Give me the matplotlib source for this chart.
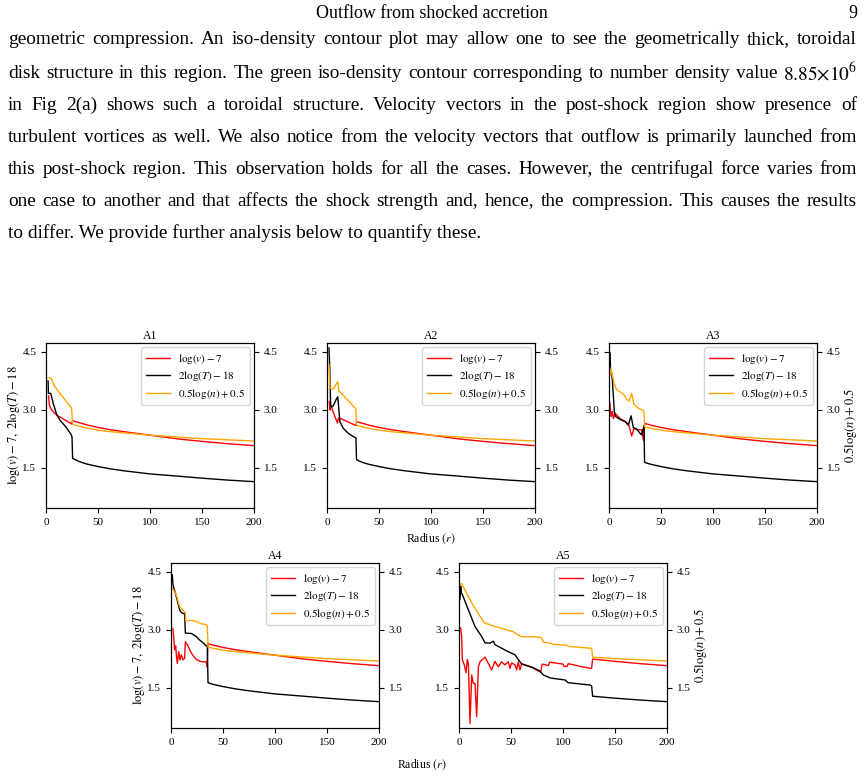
import matplotlib
matplotlib.use("Agg")
import matplotlib.pyplot as plt

plt.rcParams["font.family"] = ["Liberation Serif", "DejaVu Serif"]
plt.rcParams["mathtext.fontset"] = "stix"

# ---------------------------------------------------------------------------
# Page text
# ---------------------------------------------------------------------------
HEADER = "Outflow from shocked accretion"
PAGE_NO = "9"
PARA_LINES = [
    "geometric compression. An iso-density contour plot may allow one to see the geometrically thick, toroidal",
    r"disk structure in this region. The green iso-density contour corresponding to number density value $8.85{\times}10^6$",
    "in Fig  2(a) shows such a toroidal structure. Velocity vectors in the post-shock region show presence of",
    "turbulent vortices as well. We also notice from the velocity vectors that outflow is primarily launched from",
    "this post-shock region. This observation holds for all the cases. However, the centrifugal force varies from",
    "one case to another and that affects the shock strength and, hence, the compression. This causes the results",
    "to differ. We provide further analysis below to quantify these.",
]

# ---------------------------------------------------------------------------
# Outer (post-shock) profile, shared by all cases
# ---------------------------------------------------------------------------
r_out   = [25.6, 28, 31, 35, 40, 50, 62, 75, 100, 128, 150, 175, 200]
T_out   = [1.74, 1.71, 1.67, 1.63, 1.59, 1.53, 1.47, 1.42, 1.34, 1.28, 1.23, 1.18, 1.14]
v_out   = [2.72, 2.69, 2.67, 2.64, 2.60, 2.54, 2.48, 2.43, 2.34, 2.24, 2.18, 2.12, 2.07]
n_out   = [2.62, 2.60, 2.58, 2.55, 2.52, 2.47, 2.43, 2.40, 2.34, 2.29, 2.25, 2.22, 2.19]

# ---------------------------------------------------------------------------
# Inner profiles per case (r, value)
# ---------------------------------------------------------------------------
A1_v_r = [2.5, 3.2, 5.4, 10.2, 19.8, 24.6, 25.6]
A1_v   = [3.35, 3.12, 2.99, 2.86, 2.71, 2.63, 2.72]
A1_T_r = [2.0, 2.3, 4.5, 7.0, 10.2, 13.4, 19.8, 24.0, 25.0, 25.6]
A1_T   = [3.74, 3.42, 3.42, 3.16, 2.88, 2.73, 2.53, 2.36, 2.30, 1.74]
A1_n_r = [1.9, 4.5, 8.6, 16.6, 24.0, 24.6, 25.6]
A1_n   = [3.82, 3.82, 3.59, 3.31, 3.06, 3.03, 2.62]

A2_v_r = [2.2, 2.9, 3.5, 7.0, 10.2, 10.9, 12.0, 15.6, 26.8, 28.0, 28.4]
A2_v   = [3.21, 2.99, 3.12, 2.86, 2.65, 2.78, 2.78, 2.74, 2.60, 2.59, 2.69]
A2_T_r = [1.9, 2.6, 3.5, 4.2, 6.0, 9.3, 10.3, 11.6, 12.4, 15.6, 20.4, 26.1, 27.8, 28.4]
A2_T   = [4.59, 4.11, 3.12, 3.06, 3.10, 3.29, 3.33, 2.95, 2.69, 2.52, 2.39, 2.29, 2.27, 1.71]
A2_n_r = [1.9, 2.9, 6.1, 9.3, 10.3, 10.9, 11.6, 17.4, 26.4, 27.6, 28.4]
A2_n   = [4.16, 3.55, 3.53, 3.68, 3.72, 3.60, 3.48, 3.32, 3.06, 3.02, 2.60]

A3_v_r = [1.0, 1.9, 3.2, 4.2, 5.8, 10.6, 17.0, 19.3, 21.8, 24.0, 28.0, 31.4, 33.0, 33.6, 34.2]
A3_v   = [3.17, 2.82, 2.95, 2.77, 2.91, 2.77, 2.67, 2.58, 2.32, 2.51, 2.48, 2.48, 2.22, 2.20, 2.65]
A3_T_r = [1.0, 1.6, 2.6, 3.2, 4.2, 5.1, 6.4, 10.6, 15.4, 18.6, 21.2, 23.4, 25.0, 26.6, 29.8,
          31.4, 32.4, 33.6, 34.2]
A3_T   = [4.47, 3.90, 3.94, 3.77, 3.34, 2.95, 2.82, 2.75, 2.69, 2.60, 2.84, 2.54, 2.52, 2.50, 2.39,
          2.35, 2.46, 2.58, 1.65]
A3_n_r = [1.0, 1.9, 2.6, 3.5, 4.8, 7.4, 10.6, 13.8, 17.0, 19.3, 21.8, 24.0, 28.0, 31.4, 33.6, 34.2]
A3_n   = [4.07, 3.90, 3.98, 3.86, 3.68, 3.52, 3.46, 3.40, 3.27, 3.22, 3.42, 3.13, 3.04, 3.00, 2.95, 2.56]

A4_v_r = [1.8, 2.6, 3.5, 4.5, 5.3, 6.1, 7.4, 8.7, 9.9, 11.5, 13.1, 13.8, 16.3, 19.6, 24.3, 29.1,
          33.9, 34.6, 35.6]
A4_v   = [3.03, 2.82, 2.48, 2.58, 2.30, 2.13, 2.43, 2.22, 2.35, 2.22, 2.26, 2.69, 2.58, 2.39, 2.23,
          2.17, 2.17, 2.04, 2.64]
A4_T_r = [1.3, 1.9, 5.1, 8.3, 9.9, 12.5, 13.1, 13.8, 19.6, 24.3, 27.6, 30.8, 33.9, 34.9, 35.6]
A4_T   = [4.41, 4.16, 3.85, 3.51, 3.44, 3.41, 3.41, 2.91, 2.90, 2.82, 2.73, 2.66, 2.58, 2.58, 1.63]
A4_n_r = [1.3, 5.1, 8.3, 12.5, 13.8, 14.1, 19.6, 24.3, 29.1, 33.9, 34.9, 35.6]
A4_n   = [4.07, 3.90, 3.59, 3.47, 3.44, 3.23, 3.24, 3.21, 3.15, 3.13, 3.10, 2.55]

A5_v_r = [1.6, 2.6, 3.2, 5.1, 6.7, 8.0, 9.0, 10.6, 12.2, 13.8, 15.4, 17.0, 18.6, 20.2, 25.0, 28.0,
          31.4, 34.6, 37.8, 41.0, 44.0, 47.4, 49.0, 50.6, 53.8, 55.4, 57.0, 58.6, 60.3, 70.0, 78.5,
          80.0, 86.0, 87.0, 100.0, 101.0, 104.0, 105.0, 126.0, 127.5, 128.5]
A5_v   = [3.04, 2.82, 2.22, 2.09, 1.89, 2.23, 2.13, 0.58, 1.83, 1.61, 1.61, 0.75, 2.04, 2.17, 2.29, 2.14,
          1.96, 2.18, 2.04, 2.17, 2.09, 2.17, 2.00, 2.14, 2.09, 1.96, 2.17, 1.96, 2.12, 2.03, 1.90,
          2.11, 2.07, 2.16, 2.11, 2.05, 2.05, 2.12, 2.00, 2.00, 2.24]
A5_T_r = [1.0, 1.6, 2.2, 3.0, 9.0, 15.4, 21.8, 25.0, 29.8, 33.0, 34.6, 41.0, 47.4, 53.8, 57.0, 60.3,
          70.0, 78.0, 81.0, 88.0, 102.0, 105.0, 126.0, 127.5, 128.5]
A5_T   = [3.78, 4.12, 3.95, 3.92, 3.51, 3.08, 2.82, 2.66, 2.65, 2.70, 2.61, 2.52, 2.43, 2.35, 2.23, 2.11,
          2.03, 1.93, 1.83, 1.75, 1.70, 1.63, 1.57, 1.55, 1.28]
A5_n_r = [1.3, 2.6, 9.0, 15.4, 23.4, 25.0, 34.6, 38.0, 45.9, 52.0, 55.0, 58.6, 60.0, 75.0, 79.5,
          81.0, 89.0, 90.0, 103.5, 105.0, 126.0, 127.5, 128.5]
A5_n   = [4.16, 4.19, 3.85, 3.55, 3.21, 3.17, 3.08, 3.06, 2.99, 2.95, 2.89, 2.84, 2.82, 2.81, 2.79,
          2.68, 2.64, 2.62, 2.60, 2.57, 2.52, 2.52, 2.29]

CASES = {
    "A1": (A1_v_r, A1_v, A1_T_r, A1_T, A1_n_r, A1_n),
    "A2": (A2_v_r, A2_v, A2_T_r, A2_T, A2_n_r, A2_n),
    "A3": (A3_v_r, A3_v, A3_T_r, A3_T, A3_n_r, A3_n),
    "A4": (A4_v_r, A4_v, A4_T_r, A4_T, A4_n_r, A4_n),
    "A5": (A5_v_r, A5_v, A5_T_r, A5_T, A5_n_r, A5_n),
}

# axes boxes in page pixels: left, top
W, H = 864, 778
AX_BOX = {
    "A1": (46, 343), "A2": (327, 343), "A3": (609, 343),
    "A4": (171, 563), "A5": (459, 563),
}
AX_W, AX_H = 208, 165
YTICKS = [1.5, 3.0, 4.5]
YLIM = (0.46, 4.72)


def join_outer(r_in, y_in, r_o, y_o):
    """Inner profile followed by the shared outer profile beyond the shock."""
    rr, yy = list(r_in), list(y_in)
    for r, y in zip(r_o, y_o):
        if r > r_in[-1]:
            rr.append(r)
            yy.append(y)
    return rr, yy


fig = plt.figure(figsize=(W / 100, H / 100), dpi=100)
renderer = fig.canvas.get_renderer()

for name, (vr, v, Tr, T, nr, n) in CASES.items():
    left, top = AX_BOX[name]
    ax = fig.add_axes([left / W, 1 - (top + AX_H) / H, AX_W / W, AX_H / H])
    r1, y1 = join_outer(vr, v, r_out, v_out)
    r2, y2 = join_outer(Tr, T, r_out, T_out)
    r3, y3 = join_outer(nr, n, r_out, n_out)
    ax.plot(r1, y1, color="red", lw=1.0, label=r"$\log(v)-7$")
    ax.plot(r2, y2, color="black", lw=1.0, label=r"$2\log(T)-18$")
    ax.plot(r3, y3, color="orange", lw=1.0, label=r"$0.5\log(n)+0.5$")
    ax.set_xlim(0, 200)
    ax.set_ylim(*YLIM)
    ax.set_xticks([0, 50, 100, 150, 200])
    ax.set_yticks(YTICKS)
    ax.tick_params(labelsize=8)
    ax.set_title(name, fontsize=8.5, pad=3)
    ax.legend(loc="upper right", fontsize=8, borderaxespad=0.4,
              handlelength=2.2, labelspacing=0.3, handletextpad=0.7)

    ax2 = ax.twinx()
    ax2.set_ylim(*YLIM)
    ax2.set_yticks(YTICKS)
    ax2.tick_params(labelsize=8)

    if name in ("A1", "A4"):
        ax.set_ylabel(r"$\log(v)-7,\ 2\log(T)-18$", fontsize=9, labelpad=0)
    if name in ("A3", "A5"):
        ax2.set_ylabel(r"$0.5\log(n)+0.5$", fontsize=9, labelpad=1)
    if name == "A2":
        ax.set_xlabel(r"Radius $(r)$", fontsize=8.5, labelpad=3)

fig.text(422 / W, 1 - 765 / H, r"Radius $(r)$", fontsize=8.5, ha="center", va="center")

# ---------------------------------------------------------------------------
# Header and justified paragraph
# ---------------------------------------------------------------------------
X0, X1 = 8, 857
LINE_Y = [40, 73, 105, 137, 169, 201, 233]


def width_px(s, size):
    t = fig.text(0, 0, s, fontsize=size)
    w = t.get_window_extent(renderer).width
    t.remove()
    return w


base = 10
widest = max(width_px(" ".join(l.split()), base) for l in PARA_LINES[:-1])
fsize = base * (X1 - X0) * 0.985 / widest

hsize = fsize * 0.93
fig.text(432 / W, 1 - 13 / H, HEADER, fontsize=hsize, ha="center", va="center")
fig.text(857 / W, 1 - 13 / H, PAGE_NO, fontsize=hsize, ha="right", va="center")

for i, line in enumerate(PARA_LINES):
    y = 1 - LINE_Y[i] / H
    words = line.split()
    if i == len(PARA_LINES) - 1:
        fig.text(X0 / W, y, " ".join(words), fontsize=fsize, ha="left", va="center")
        continue
    widths = [width_px(w, fsize) for w in words]
    gap = (X1 - X0 - sum(widths)) / (len(words) - 1)
    x = X0
    for w, wd in zip(words, widths):
        fig.text(x / W, y, w, fontsize=fsize, ha="left", va="center")
        x += wd + gap

fig.savefig("out.png", dpi=100)
